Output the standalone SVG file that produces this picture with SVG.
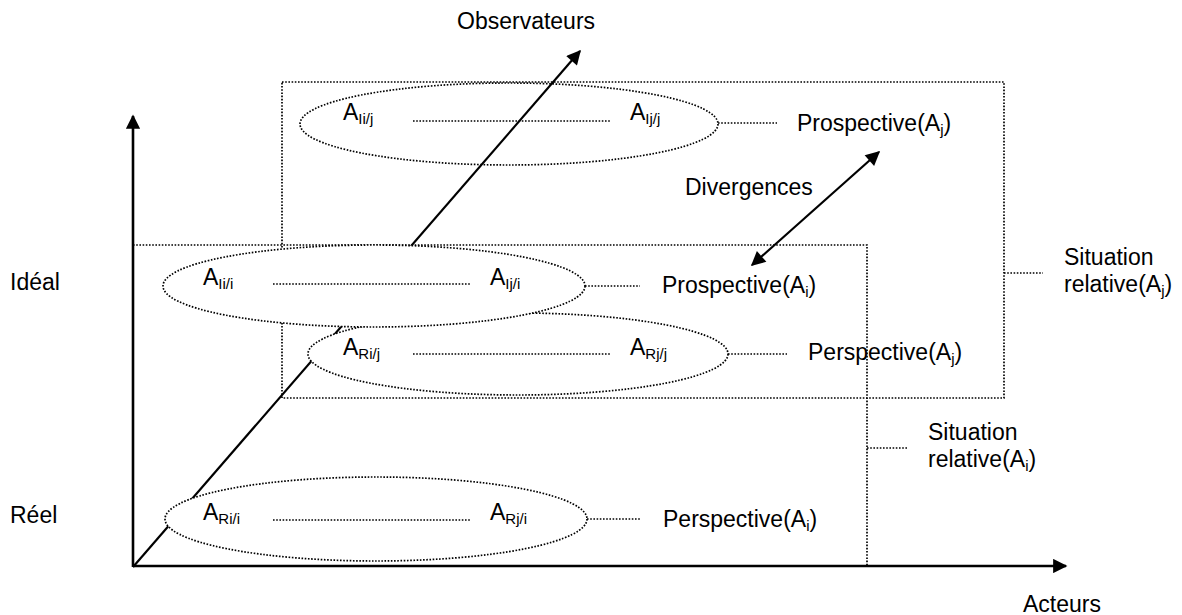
<svg xmlns="http://www.w3.org/2000/svg" width="1182" height="615" viewBox="0 0 1182 615">
<style>
text{font-family:"Liberation Sans",Arial,sans-serif;font-size:23px;fill:#000}
.sub{font-size:15px}
.dot{fill:none;stroke:#000;stroke-width:1.7;stroke-dasharray:1.6 1.6}
.ell{stroke:#000;stroke-width:1.7;stroke-dasharray:1.6 1.6}
.axis{stroke:#000;stroke-width:2.6;fill:none}
.arr{stroke:#000;stroke-width:2.2;fill:none}
</style>
<defs>
<marker id="ah" viewBox="0 0 10 10" refX="9" refY="5" markerWidth="7" markerHeight="6.5" markerUnits="strokeWidth" orient="auto-start-reverse">
<path d="M0,0 L10,5 L0,10 z" fill="#000"/>
</marker>
<marker id="ax" viewBox="0 0 10 10" refX="9" refY="5" markerWidth="6" markerHeight="5.5" markerUnits="strokeWidth" orient="auto">
<path d="M0,0 L10,5 L0,10 z" fill="#000"/>
</marker>
</defs>
<rect width="1182" height="615" fill="#fff"/>
<g id="situation-Aj">
<rect class="dot" x="282" y="82" width="722" height="316"/>
<line class="dot" x1="1004" y1="273" x2="1043" y2="273"/>
<text x="1064" y="265">Situation</text>
<text x="1064" y="292">relative(A<tspan class="sub" dy="4">j</tspan><tspan dy="-4">)</tspan></text>
</g>
<g id="situation-Ai">
<polyline class="dot" points="133,245 867,245 867,566"/>
<line class="dot" x1="867" y1="448" x2="907" y2="448"/>
<text x="928" y="440">Situation</text>
<text x="928" y="467">relative(A<tspan class="sub" dy="4">i</tspan><tspan dy="-4">)</tspan></text>
</g>
<g id="ellipse-Ij">
<ellipse class="ell" cx="509" cy="124" rx="209" ry="41" fill="none"/>
</g>
<g id="connectors">
<line class="axis" x1="133" y1="567" x2="133" y2="116" marker-end="url(#ax)"/>
<line class="axis" x1="133" y1="566" x2="1066" y2="566" marker-end="url(#ax)"/>
<line class="arr" x1="133" y1="567" x2="580" y2="51" marker-end="url(#ah)"/>
<line class="arr" x1="752" y1="265" x2="879" y2="152" marker-start="url(#ah)" marker-end="url(#ah)"/>
</g>
<g id="ellipse-Ri">
<ellipse class="ell" cx="376" cy="519" rx="211" ry="42" fill="#fff"/>
<text x="203" y="520">A<tspan class="sub" dy="4">Ri/i</tspan></text>
<line class="dot" x1="273" y1="520" x2="470" y2="520"/>
<text x="490" y="520">A<tspan class="sub" dy="4">Rj/i</tspan></text>
<line class="dot" x1="587" y1="519" x2="641" y2="519"/>
<text x="663" y="527">Perspective(A<tspan class="sub" dy="4">i</tspan><tspan dy="-4">)</tspan></text>
</g>
<g id="ellipse-Rj">
<ellipse class="ell" cx="518" cy="354" rx="210" ry="41" fill="#fff"/>
<text x="343" y="355">A<tspan class="sub" dy="4">Ri/j</tspan></text>
<line class="dot" x1="413" y1="354" x2="610" y2="354"/>
<text x="630" y="355">A<tspan class="sub" dy="4">Rj/j</tspan></text>
<line class="dot" x1="728" y1="354" x2="787" y2="354"/>
<text x="808" y="360">Perspective(A<tspan class="sub" dy="4">j</tspan><tspan dy="-4">)</tspan></text>
</g>
<g id="ellipse-Ii">
<ellipse class="ell" cx="374" cy="286" rx="211" ry="41" fill="#fff"/>
<text x="203" y="285">A<tspan class="sub" dy="4">Ii/i</tspan></text>
<line class="dot" x1="273" y1="284" x2="470" y2="284"/>
<text x="490" y="285">A<tspan class="sub" dy="4">Ij/i</tspan></text>
<line class="dot" x1="585" y1="286" x2="640" y2="286"/>
<text x="662" y="293">Prospective(A<tspan class="sub" dy="4">i</tspan><tspan dy="-4">)</tspan></text>
</g>
<g id="ellipse-Ij-labels">
<text x="343" y="120">A<tspan class="sub" dy="4">Ii/j</tspan></text>
<line class="dot" x1="413" y1="121" x2="610" y2="121"/>
<text x="630" y="120">A<tspan class="sub" dy="4">Ij/j</tspan></text>
<line class="dot" x1="718" y1="123" x2="777" y2="123"/>
<text x="797" y="131">Prospective(A<tspan class="sub" dy="4">j</tspan><tspan dy="-4">)</tspan></text>
</g>
<g id="labels">
<text x="457" y="29">Observateurs</text>
<text x="1023" y="612">Acteurs</text>
<text x="10" y="290">Idéal</text>
<text x="10" y="523">Réel</text>
<text x="685" y="195">Divergences</text>
</g>
</svg>
